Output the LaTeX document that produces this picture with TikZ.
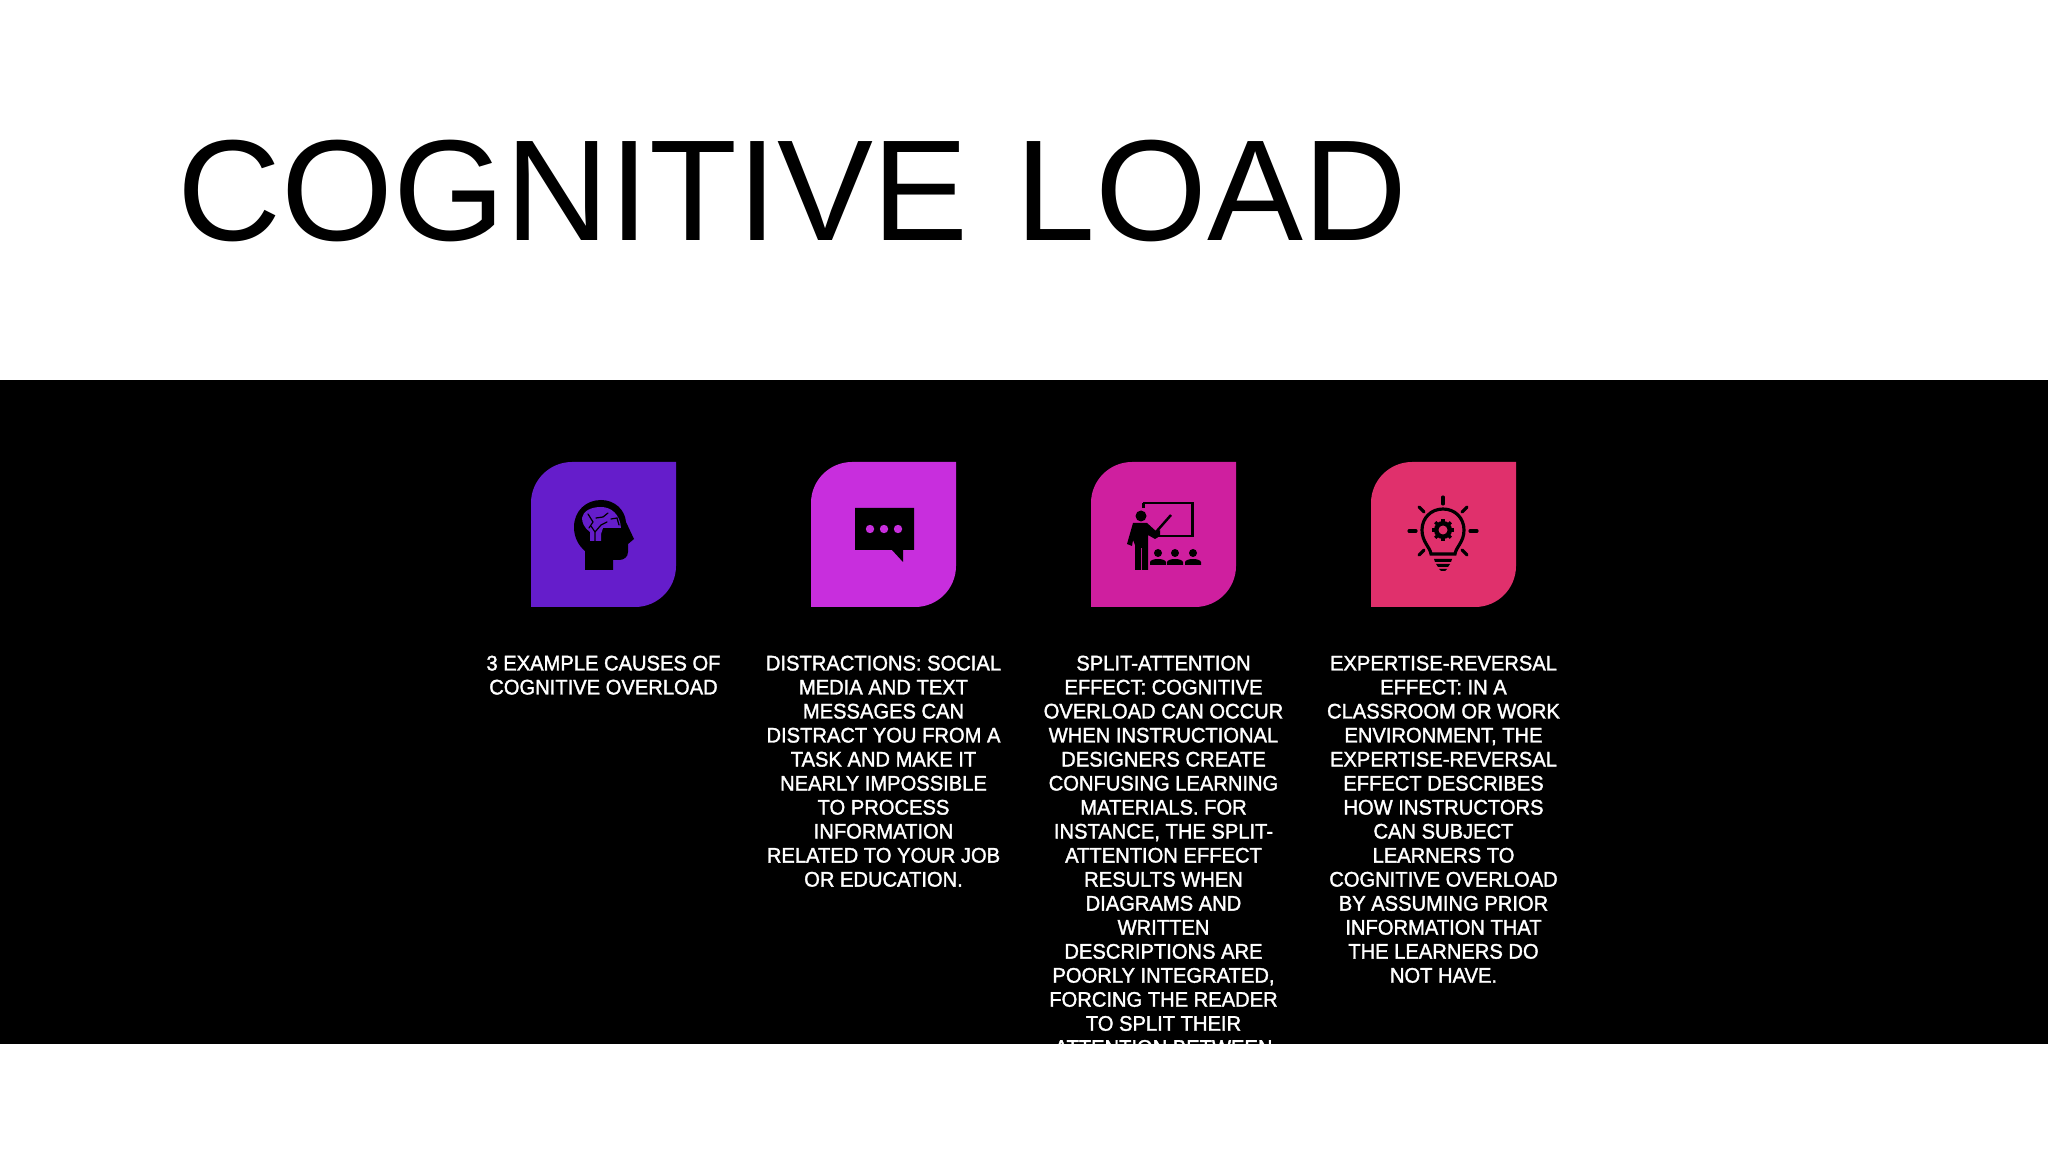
\documentclass[tikz,border=0pt]{standalone}
\usepackage{fontspec}
\setmainfont{Liberation Sans}
\newfontfamily\captionfont[FakeBold=1.6,FakeStretch=.955]{Liberation Sans}
\definecolor{tileviolet}{HTML}{651DCB}
\definecolor{tilepurple}{HTML}{C82EDD}
\definecolor{tilemagenta}{HTML}{CF1F9F}
\definecolor{tilerose}{HTML}{E0306C}
\tikzset{
  caption/.style={anchor=north,align=center,text=white,inner sep=0pt,
    font=\captionfont\fontsize{6}{6.83}\selectfont},
  iconline/.style={draw=black,line width=.9pt,line cap=round},
}
\newcommand{\tileshape}{(0,145) [rounded corners=4.1mm] -- (0,0) [sharp corners] -- (145,0) [rounded corners=4.1mm] -- (145,145) [sharp corners] -- cycle}
\begin{document}
\begin{tikzpicture}[x=.01cm,y=-.01cm]
    \useasboundingbox (0,0) rectangle (2048,1152);
    \fill[white] (0,0) rectangle (2048,1152);
    \node[anchor=base west,inner sep=0pt,font=\fontsize{40.9}{48}\selectfont] (title) at (177,241) {COGNITIVE\hspace{2pt} LOAD};
    \fill[black] (0,380.5) rectangle (2048,1044);

    \foreach \tilex/\tilecolor in {531/tileviolet,811/tilepurple,1091/tilemagenta,1371/tilerose}{
      \fill[\tilecolor] [shift={(\tilex,462)}] \tileshape;
    }

    % head
    \begin{scope}[shift={(531,462)}]
      \fill (54,108) -- (54,89) .. controls (47,83) and (43,75) .. (43,65)
        .. controls (43,49) and (55,38) .. (70,38)
        .. controls (84,38) and (94,48) .. (95,60)
        -- (103,77) -- (97,82) -- (97,90) .. controls (97,95) and (93,98) .. (88,98)
        -- (82,98) -- (82,108) -- cycle;
      \fill[tileviolet] (59,79) -- (59,70) .. controls (53,66) and (51,60) .. (51,56)
        .. controls (52,49) and (60,45) .. (70,45)
        .. controls (80,45) and (89,52) .. (90,66)
        -- (72,66) -- (70,72) -- (70,79) -- cycle;
      \draw[iconline,line width=.35pt] (57,52) -- (62,60) -- (58,66);
      \draw[iconline,line width=.35pt] (64,79) -- (64,70) -- (60,64);
      \draw[iconline,line width=.35pt] (64,70) -- (70,63) -- (76,60);
      \draw[iconline,line width=.35pt] (65,56) -- (72,55) -- (77,51);
      \draw[iconline,line width=.35pt] (80,57) -- (86,56) -- (88,63);
    \end{scope}

    % bubble
    \begin{scope}[shift={(811,462)}]
      \fill (44,46) -- (103,46) -- (103,88) -- (92,88) -- (92,100) -- (81,88) -- (44,88) -- cycle;
      \foreach \dotx in {59,73,87}{
        \fill[tilepurple] (\dotx,67) circle (4.2);
      }
    \end{scope}

    % teacher
    \begin{scope}[shift={(1091,462)}]
      \draw[line width=.85pt] (52,41) -- (101,41) -- (101,74) -- (67,74);
      \draw[line width=.85pt] (52,41) -- (52,46);
      \fill (50,54) circle (5.5);
      \fill (42,61) -- (56,61) -- (66,70) -- (69,68) -- (69,74) -- (64,77) -- (57,73)
        -- (57,108) -- (51,108) -- (51,86) -- (50,86) -- (50,108) -- (44,108)
        -- (44,83) -- (42,78) -- (41,84) -- (36,82) -- cycle;
      \draw[line width=.7pt] (65,70) -- (80,53);
      \foreach \headx in {67,84,102}{
        \fill (\headx,91) circle (4);
        \fill (\headx-8,103) -- (\headx-8,100) .. controls (\headx-7,96) and (\headx+7,96) .. (\headx+8,100) -- (\headx+8,103) -- cycle;
      }
    \end{scope}

    % bulb
    \begin{scope}[shift={(1371,462)}]
      \draw[iconline] (60,92) .. controls (59,85) and (51,80) .. (51,68)
        .. controls (51,56) and (60,47) .. (72,47)
        .. controls (84,47) and (93,56) .. (93,68)
        .. controls (93,80) and (85,85) .. (84,92) -- cycle;
      \fill (63,97) -- (81,97) -- (80,100) -- (64,100) -- cycle;
      \fill (65,102) -- (79,102) -- (77,105) -- (67,105) -- cycle;
      \fill (68,107) -- (76,107) -- (74,109) -- (70,109) -- cycle;
      \foreach \rayangle in {0,45,135,180,225,270,315}{
        \draw[iconline] (72,69) ++(\rayangle:27) -- ++(\rayangle:7);
      }
      \foreach \toothangle in {0,45,...,315}{
        \draw[line width=.9pt] (72,68) -- ++(\toothangle:11);
      }
      \fill (72,68) circle (9);
      \fill[tilerose] (72,68) circle (4.5);
    \end{scope}

    \node[caption] (causes) at (603.5,655) {3 EXAMPLE CAUSES OF\\COGNITIVE OVERLOAD};
    \node[caption] (distractions) at (883.5,655) {DISTRACTIONS: SOCIAL\\MEDIA AND TEXT\\MESSAGES CAN\\DISTRACT YOU FROM A\\TASK AND MAKE IT\\NEARLY IMPOSSIBLE\\TO PROCESS\\INFORMATION\\RELATED TO YOUR JOB\\OR EDUCATION.};
    \node[caption] (split) at (1163.5,655) {SPLIT-ATTENTION\\EFFECT: COGNITIVE\\OVERLOAD CAN OCCUR\\WHEN INSTRUCTIONAL\\DESIGNERS CREATE\\CONFUSING LEARNING\\MATERIALS. FOR\\INSTANCE, THE SPLIT-\\ATTENTION EFFECT\\RESULTS WHEN\\DIAGRAMS AND\\WRITTEN\\DESCRIPTIONS ARE\\POORLY INTEGRATED,\\FORCING THE READER\\TO SPLIT THEIR\\ATTENTION BETWEEN};
    \node[caption] (reversal) at (1443.5,655) {EXPERTISE-REVERSAL\\EFFECT: IN A\\CLASSROOM OR WORK\\ENVIRONMENT, THE\\EXPERTISE-REVERSAL\\EFFECT DESCRIBES\\HOW INSTRUCTORS\\CAN SUBJECT\\LEARNERS TO\\COGNITIVE OVERLOAD\\BY ASSUMING PRIOR\\INFORMATION THAT\\THE LEARNERS DO\\NOT HAVE.};

    \fill[white] (0,1044) rectangle (2048,1152);
\end{tikzpicture}
\end{document}
